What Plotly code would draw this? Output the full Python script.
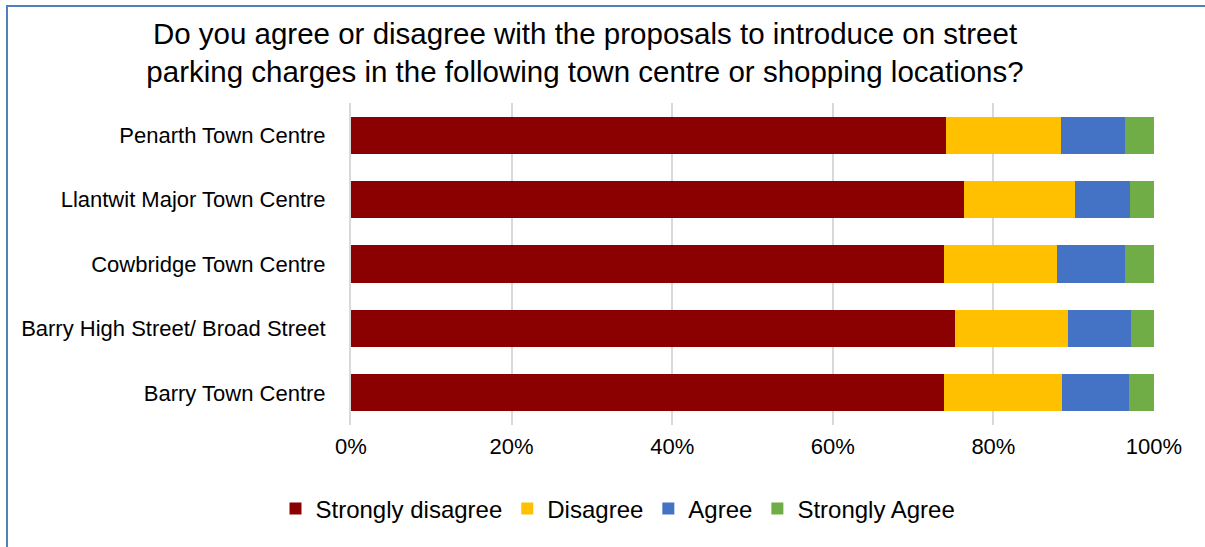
import plotly.graph_objects as go

categories = ["Barry Town Centre", "Barry High Street/ Broad Street",
              "Cowbridge Town Centre", "Llantwit Major Town Centre",
              "Penarth Town Centre"]
strongly_disagree = [73.8, 75.2, 73.8, 76.4, 74.1]
disagree = [14.8, 14.1, 14.1, 13.8, 14.3]
agree = [8.3, 7.8, 8.5, 6.8, 8.0]
strongly_agree = [3.1, 2.9, 3.6, 3.0, 3.6]

series = [
    ("Strongly disagree", strongly_disagree, "#8B0000"),
    ("Disagree", disagree, "#FFC000"),
    ("Agree", agree, "#4472C4"),
    ("Strongly Agree", strongly_agree, "#70AD47"),
]

fig = go.Figure()
for name, vals, col in series:
    fig.add_trace(go.Bar(y=categories, x=[v / 100 for v in vals], name=name,
                         orientation="h", marker=dict(color=col, line=dict(width=0))))

W, H = 1205, 547
L, R, T, B = 351, 51, 103, 122
pw = W - L - R
ph = H - T - B

def px_x(p):
    return (p - L) / pw

def px_y(p):
    return 1 - (p - T) / ph

font = "Liberation Sans, Arial, sans-serif"
fig.update_layout(
    width=W, height=H,
    margin=dict(l=L, r=R, t=T, b=B, autoexpand=False),
    barmode="stack", bargap=0.425,
    paper_bgcolor="white", plot_bgcolor="white",
    font=dict(family=font, color="#000000"),
    title=dict(text="Do you agree or disagree with the proposals to introduce on street<br>parking charges in the following town centre or shopping locations?",
               x=585 / W, xanchor="center", y=1 - 44 / H, yanchor="middle",
               font=dict(size=29.5, family=font, color="#000000")),
    xaxis=dict(range=[0, 1], tickformat=".0%", dtick=0.2, showgrid=True,
               gridcolor="#D9D9D9", gridwidth=2, zeroline=False,
               tickfont=dict(size=22, family=font, color="#000000"), ticks="",
               ticklabelstandoff=6),
    yaxis=dict(showgrid=False, zeroline=False, showline=True, linecolor="#D9D9D9",
               linewidth=2, tickfont=dict(size=22, family=font, color="#000000"),
               ticks="", ticklabelstandoff=19),
    legend=dict(orientation="h", x=px_x(618), xanchor="center",
                y=px_y(509), yanchor="middle",
                font=dict(size=24, family=font, color="#000000"),
                itemwidth=30, traceorder="normal"),
    shapes=[dict(type="rect", xref="paper", yref="paper",
                 x0=px_x(7), x1=px_x(1215), y0=px_y(6), y1=px_y(560),
                 line=dict(color="#4F81BD", width=2), fillcolor="rgba(0,0,0,0)",
                 layer="below")],
)

fig.write_html("out.html", config={"displayModeBar": False},
               post_script="document.body.style.margin='0px';")
